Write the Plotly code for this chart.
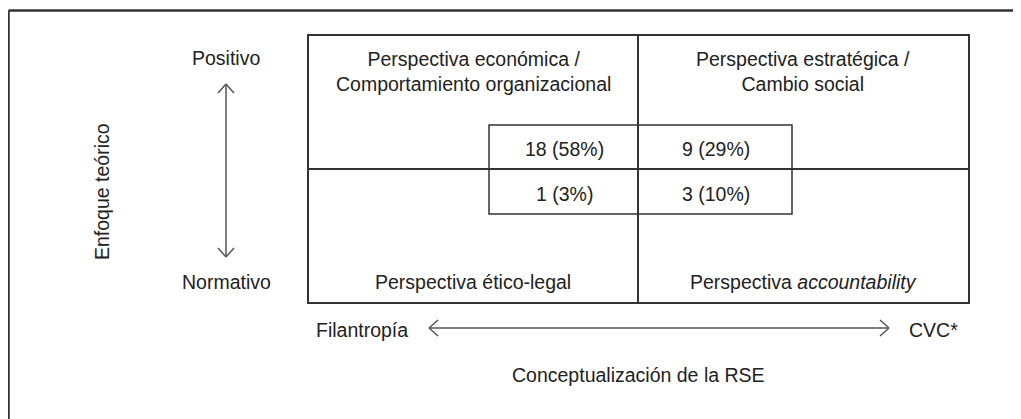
import plotly.graph_objects as go

# ---- data ----
quadrant_titles = [
    "Perspectiva económica /<br>Comportamiento organizacional",
    "Perspectiva estratégica /<br>Cambio social",
    "Perspectiva ético-legal",
    "Perspectiva <i>accountability</i>",
]
counts = [18, 9, 1, 3]
percentages = [58, 29, 3, 10]
y_axis_title = "Enfoque teórico"
y_ends = ["Positivo", "Normativo"]
x_axis_title = "Conceptualización de la RSE"
x_ends = ["Filantropía", "CVC*"]

# ---- layout geometry (page-pixel coordinates) ----
W, H = 1021, 419
OFF = 8  # page body margin
FONT = "Liberation Sans, Arial, sans-serif"
FS = 19.5
TXT = "#222222"
LINE = "#333333"
ARW = "#555555"

fig = go.Figure()
fig.add_trace(go.Scatter(x=[OFF, W + OFF], y=[OFF, H + OFF], mode="markers",
                         marker=dict(opacity=0), hoverinfo="skip", showlegend=False))

shapes = []
def line(x0, y0, x1, y1, color=LINE, width=2):
    shapes.append(dict(type="line", x0=x0, y0=y0, x1=x1, y1=y1,
                       xref="x", yref="y", line=dict(color=color, width=width)))

# outer frame (top and left visible)
line(8.5, 10.5, W + 20, 10.5, width=2.5)
line(8.5, 10.5, 8.5, H + 20, width=2.5)

# matrix
L, R, T, B = 308, 969, 35, 303
MX, MY = 638, 169
shapes.append(dict(type="rect", x0=L, y0=T, x1=R, y1=B, xref="x", yref="y",
                   line=dict(color=LINE, width=2)))
line(MX, T, MX, B)
line(L, MY, R, MY)

# inner count box
IL, IR, IT, IB = 489, 792, 125, 214
shapes.append(dict(type="rect", x0=IL, y0=IT, x1=IR, y1=IB, xref="x", yref="y",
                   line=dict(color=LINE, width=1.5)))

# vertical double arrow
AX = 226
line(AX, 84, AX, 257, color=ARW, width=1.5)
line(AX, 84, AX - 8, 93, color=ARW, width=1.5)
line(AX, 84, AX + 8, 93, color=ARW, width=1.5)
line(AX, 257, AX - 8, 248, color=ARW, width=1.5)
line(AX, 257, AX + 8, 248, color=ARW, width=1.5)

# horizontal double arrow
AY = 328
line(429, AY, 889, AY, color=ARW, width=1.5)
line(429, AY, 438, AY - 8, color=ARW, width=1.5)
line(429, AY, 438, AY + 8, color=ARW, width=1.5)
line(889, AY, 880, AY - 8, color=ARW, width=1.5)
line(889, AY, 880, AY + 8, color=ARW, width=1.5)

ann = []
def text(t, x, y, angle=0):
    ann.append(dict(text=t, x=x, y=y, xref="x", yref="y", showarrow=False,
                    xanchor="center", yanchor="middle", textangle=angle,
                    font=dict(family=FONT, size=FS, color=TXT)))

# quadrant titles
text(quadrant_titles[0], 473, 71)
text(quadrant_titles[1], 803, 71)
text(quadrant_titles[2], 473, 282)
text(quadrant_titles[3], 803, 282)

# counts
cx = [564, 716, 564, 716]
cy = [149, 149, 194, 194]
for c, p, x, y in zip(counts, percentages, cx, cy):
    text(f"{c} ({p}%)", x, y)

# axis labels
text(y_ends[0], AX, 58)
text(y_ends[1], AX, 282)
text(y_axis_title, 102, 192, angle=-90)
text(x_ends[0], 362, 330)
text(x_ends[1], 933, 330)
text(x_axis_title, 638, 375)

fig.update_layout(
    width=W, height=H,
    margin=dict(l=0, r=0, t=0, b=0),
    paper_bgcolor="white", plot_bgcolor="white",
    xaxis=dict(range=[OFF, W + OFF], visible=False, fixedrange=True),
    yaxis=dict(range=[H + OFF, OFF], visible=False, fixedrange=True),
    shapes=shapes, annotations=ann, showlegend=False,
)
fig.write_html("out.html", config={"displayModeBar": False})
